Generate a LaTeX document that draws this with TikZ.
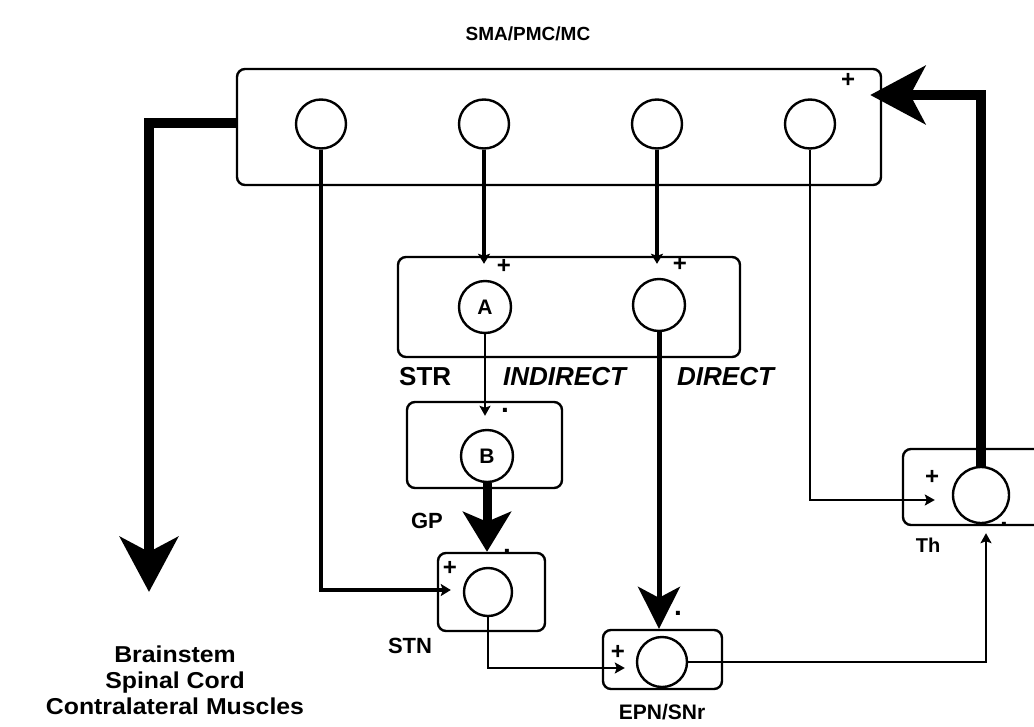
\documentclass[tikz,border=0pt]{standalone}
\usepackage{fontspec}
\setmainfont{Liberation Sans}
\newfontfamily\widesans[FakeStretch=1.08]{Liberation Sans}
\usetikzlibrary{arrows.meta,shapes.geometric}
\begin{document}
\begin{tikzpicture}[x=1pt,y=-1pt,
  box/.style={draw, line width=2.4pt, rounded corners=8pt, inner sep=0pt},
  cell/.style={draw, circle, line width=2.4pt, minimum size=52pt, inner sep=0pt, font=\fontsize{21}{21}\selectfont\bfseries},
  lab/.style={font=\fontsize{#1}{#1}\selectfont\bfseries, inner sep=0pt},
  lab/.default=22,
  wlab/.style={font=\widesans\fontsize{23}{23}\selectfont\bfseries, inner sep=0pt, anchor=base},
  ilab/.style={font=\fontsize{26}{26}\selectfont\bfseries\itshape, inner sep=0pt},
  sign/.style={font=\fontsize{24}{24}\selectfont\bfseries, inner sep=0pt},
  dot/.style={font=\fontsize{28}{28}\selectfont\bfseries, inner sep=0pt},
  thinar/.style={line width=2pt, -{Stealth[length=10pt,width=11pt,inset=2pt]}},
  medar/.style={line width=3.4pt, -{Stealth[length=10pt,width=12pt,inset=2pt]}},
  bigar/.style={line width=5pt, -{Stealth[length=42pt,width=42pt,inset=11pt]}},
  midfat/.style={line width=9pt, -{Stealth[length=40pt,width=48pt,inset=10pt]}},
  fatar/.style={line width=10pt, -{Stealth[length=55pt,width=58pt,inset=15pt]}}
]
\useasboundingbox (0,0) rectangle (1034,726);
\clip (0,0) rectangle (1034,726);

% boxes
\node[box, minimum width=644pt, minimum height=116pt] (ctx) at (559,127) {};
\node[box, minimum width=342pt, minimum height=100pt] (str) at (569,307) {};
\node[box, minimum width=155pt, minimum height=86pt] (gp) at (484.5,445) {};
\node[box, minimum width=107pt, minimum height=78pt] (stn) at (491.5,592) {};
\node[box, minimum width=119pt, minimum height=59pt] (epn) at (662.5,659.5) {};
\node[box, minimum width=150pt, minimum height=76pt] (th) at (978,487) {};

% cells
\node[cell, ellipse, minimum width=50pt, minimum height=49pt] (c1) at (321,124) {};
\node[cell, ellipse, minimum width=50pt, minimum height=49pt] (c2) at (484,124) {};
\node[cell, ellipse, minimum width=50pt, minimum height=49pt] (c3) at (657,124) {};
\node[cell, ellipse, minimum width=50pt, minimum height=49pt] (c4) at (810,124) {};
\node[cell] (A) at (485,307) {A};
\node[cell] (D) at (659,305) {};
\node[cell] (B) at (487,456) {B};
\node[cell, minimum size=48pt] (S) at (488,592) {};
\node[cell, minimum size=50pt] (E) at (662,662) {};
\node[cell, minimum size=56pt] (T) at (981,495) {};

% labels
\node[lab=19] (lctx) at (528,34) {SMA/PMC/MC};
\node[lab=26, anchor=base west] (lstr) at (399,385) {STR};
\node[ilab, anchor=base west] (lind) at (503,385) {INDIRECT};
\node[ilab, anchor=base west] (ldir) at (677,385) {DIRECT};
\node[lab=22] (lgp) at (427,521) {GP};
\node[lab=22] (lstn) at (410,646) {STN};
\node[lab=21] (lepn) at (662,712) {EPN/SNr};
\node[lab=20] (lth) at (928,545) {Th};
\node[wlab] (lb1) at (175,662) {Brainstem};
\node[wlab] (lb2) at (175,688) {Spinal Cord};
\node[wlab] (lb3) at (175,714) {Contralateral Muscles};

% signs
\node[sign] (p1) at (848,80) {+};
\node[sign] (p2) at (504,266) {+};
\node[sign] (p3) at (680,264) {+};
\node[sign] (p4) at (450,568) {+};
\node[sign] (p5) at (618,652) {+};
\node[sign] (p6) at (932,477) {+};
\node[dot] (m1) at (505,410) {.};
\node[dot] (m2) at (507,551) {.};
\node[dot] (m3) at (678,613) {.};
\node[dot] (m4) at (1004,524) {.};

% connectors
\coordinate (bs) at (149,592);
\draw[fatar] ([shift={(0,-4)}]ctx.west) -| (bs);
\draw[fatar] (T.north) |- ([shift={(-12,-32)}]ctx.east);
\draw[medar] (c1.south) |- ([shift={(-12,-2)}]S.west);
\draw[medar] (c2.south) -- ([shift={(0,8)}]c2.south |- str.north);
\draw[medar] (c3.south) -- ([shift={(0,8)}]c3.south |- str.north);
\draw[thinar] (c4.south) |- ([shift={(-17,5)}]T.west);
\draw[thinar] (A.south) -- ([shift={(0,15)}]A.south |- gp.north);
\draw[midfat] (B.south) -- (B.south |- stn.north);
\draw[bigar] (D.south) -- (D.south |- epn.north);
\draw[thinar] (S.south) |- ([shift={(-11,6)}]E.west);
\draw[thinar] (E.east) -| ([shift={(5,9)}]T.south);
\end{tikzpicture}
\end{document}
